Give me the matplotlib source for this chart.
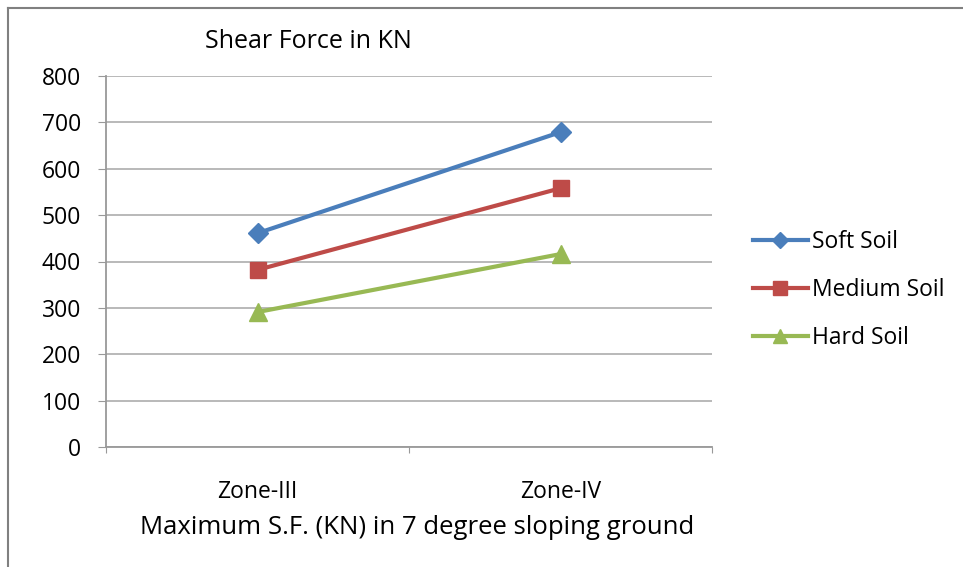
import matplotlib
matplotlib.use("Agg")
import matplotlib.pyplot as plt
from matplotlib.lines import Line2D

zones = ["Zone-III", "Zone-IV"]
soft_soil = [461, 679]
medium_soil = [382, 558]
hard_soil = [291, 416]
y_ticks = [0, 100, 200, 300, 400, 500, 600, 700, 800]

FONT = "Open Sans"
FS = 16.5
plt.rcParams["font.family"] = [FONT, "DejaVu Sans"]

fig = plt.figure(figsize=(9.63, 5.67), dpi=100)
ax = fig.add_axes([106 / 963, 120 / 567, 606 / 963, 371 / 567])

# outer frame (left and top edges visible in the reference)
fig.add_artist(Line2D([8 / 963, 8 / 963], [0, 1 - 8 / 567], color="#808080", lw=1.5))
fig.add_artist(Line2D([8 / 963, 1], [1 - 8 / 567, 1 - 8 / 567], color="#808080", lw=1.5))

x = list(range(len(zones)))
ax.plot(x, soft_soil, color="#4a7ebb", lw=3, marker="D", ms=10, label="Soft Soil")
ax.plot(x, medium_soil, color="#be4b48", lw=3, marker="s", ms=12, label="Medium Soil")
ax.plot(x, hard_soil, color="#98b954", lw=3, marker="^", ms=13, label="Hard Soil")

ax.set_xlim(-0.5, 1.5)
ax.set_ylim(0, 800)
ax.set_yticks(y_ticks)
ax.set_xticks([-0.5, 0.5, 1.5])
ax.set_xticklabels([])
ax.set_xticks(x, minor=True)
ax.set_xticklabels(zones, minor=True)
ax.tick_params(axis="x", which="minor", length=0, pad=24, labelsize=FS)
ax.tick_params(axis="x", which="major", length=4, color="#999999", direction="out")
ax.tick_params(axis="y", length=6, color="#999999", labelsize=FS, pad=12)
ax.grid(axis="y", color="#b3b3b3", lw=1.3)
ax.set_axisbelow(True)
for s in ["top", "right"]:
    ax.spines[s].set_visible(False)
for s in ["left", "bottom"]:
    ax.spines[s].set_color("#999999")
    ax.spines[s].set_linewidth(1.3)

fig.text(205 / 963, 1 - 42 / 567, "Shear Force in KN", fontsize=18, va="center", ha="left")
fig.text(417 / 963, 1 - 527 / 567, "Maximum S.F. (KN) in 7 degree sloping ground",
         fontsize=18.5, va="center", ha="center")

ax.legend(loc="center left", bbox_to_anchor=(732 / 963, 1 - 290 / 567),
          bbox_transform=fig.transFigure, frameon=False, fontsize=FS,
          handlelength=2.4, labelspacing=1.05, handletextpad=0.2, markerscale=0.8)

fig.savefig("out.png", dpi=100)
